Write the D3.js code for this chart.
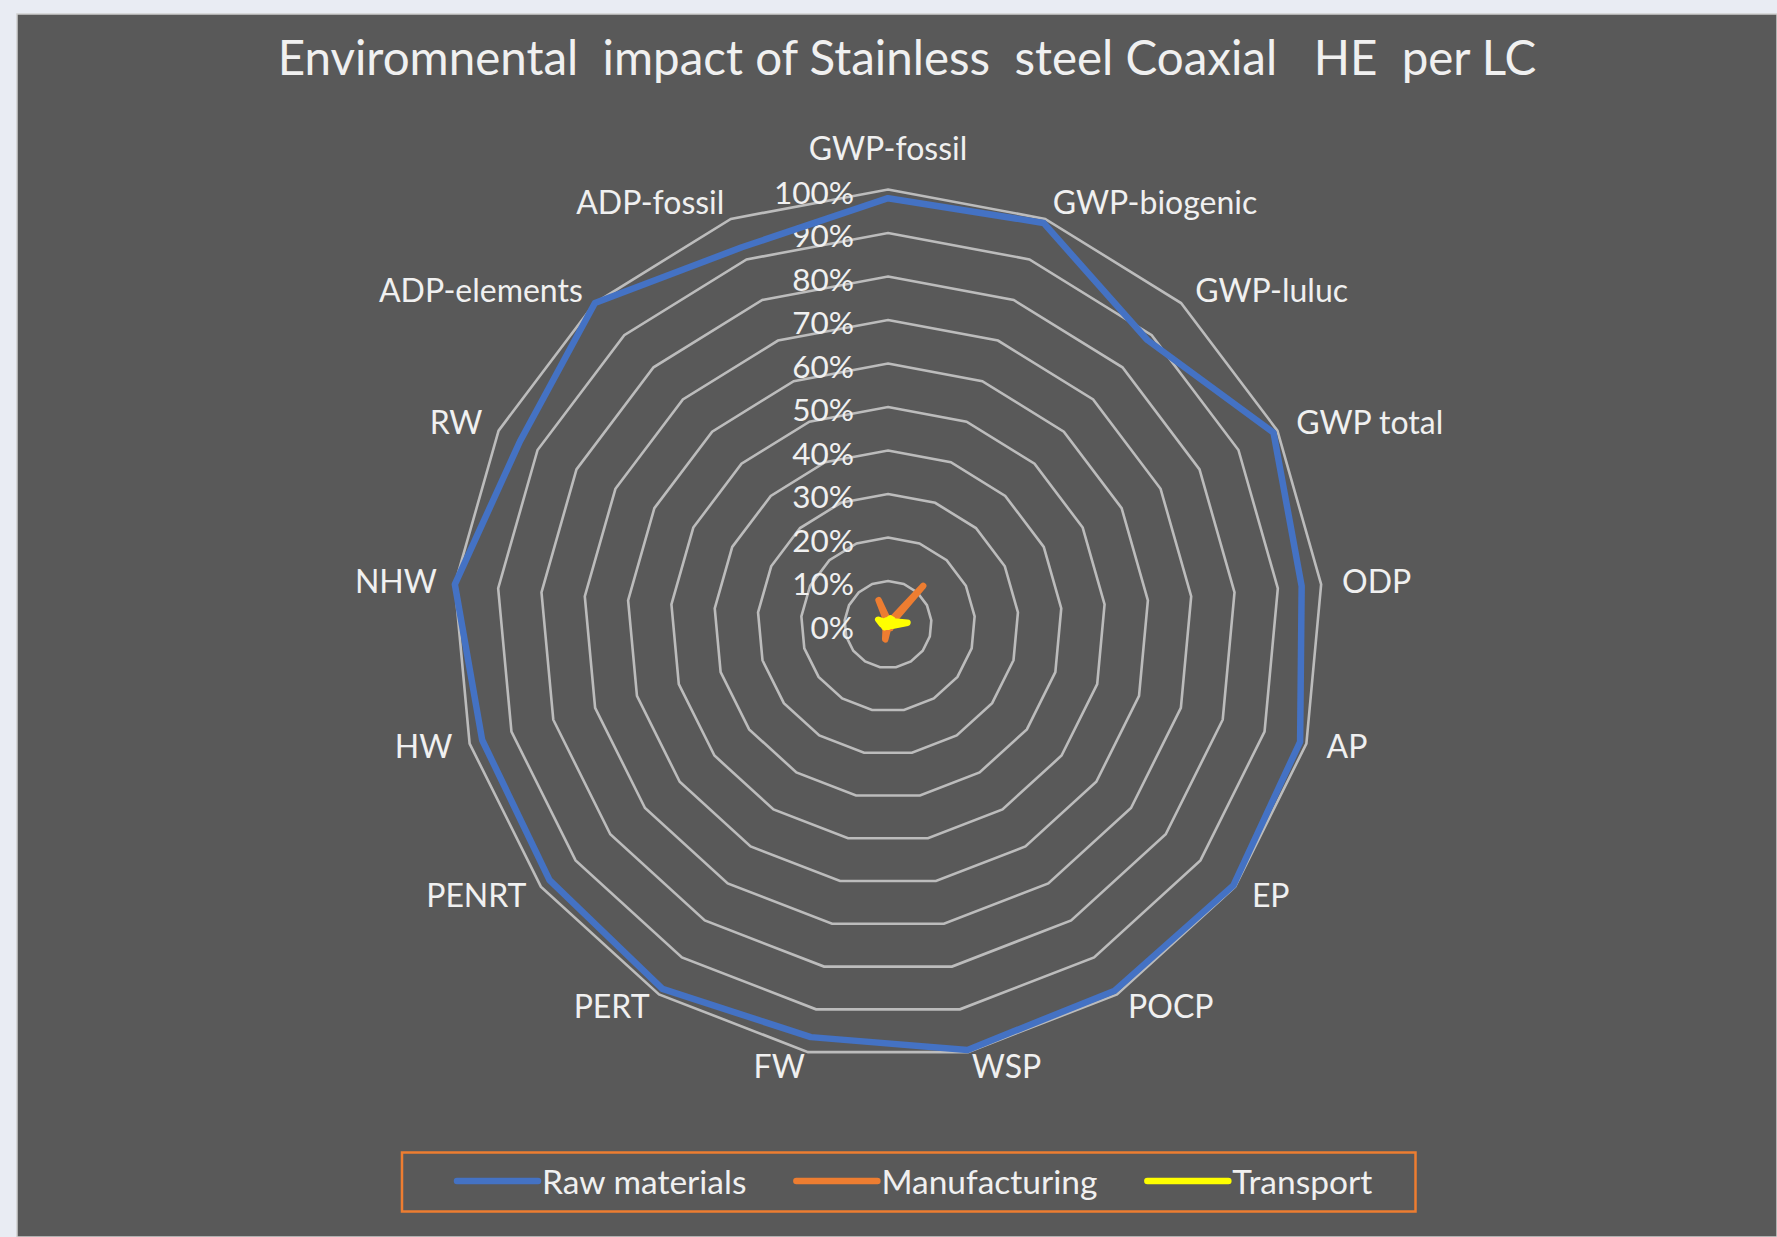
<!DOCTYPE html>
<html>
<head>
<meta charset="utf-8">
<script src="https://cdn.jsdelivr.net/npm/d3@7"></script>
<style>
  html, body { margin: 0; padding: 0; background: #e9ecf3; }
  svg { display: block; }
  text { font-family: Lato, "Open Sans", sans-serif; fill: #f0f0f0; }
</style>
</head>
<body>
<svg id="chart" width="1777" height="1237"></svg>
<script>
// Impact categories, clockwise from the top
const categories = ["GWP-fossil", "GWP-biogenic", "GWP-luluc", "GWP total", "ODP", "AP", "EP",
  "POCP", "WSP", "FW", "PERT", "PENRT", "HW", "NHW", "RW", "ADP-elements", "ADP-fossil"];

// Share of each life-cycle stage per impact category
const rawMaterials  = [0.98, 0.99, 0.885, 0.99, 0.955, 0.985, 0.995, 0.99, 0.995, 0.965, 0.985, 0.975, 0.97, 1.00, 0.945, 1.00, 0.93];
const manufacturing = [0.01, 0.005, 0.12, 0.01, 0.005, 0.01, 0.005, 0.01, 0.005, 0.035, 0.01, 0.01, 0.01, 0.00, 0.01, 0.00, 0.06];
const transport     = [0.01, 0.015, 0.015, 0.015, 0.045, 0.01, 0.005, 0.005, 0.005, 0.005, 0.005, 0.01, 0.01, 0.015, 0.025, 0.005, 0.01];

const seriesNames = ["Raw materials", "Manufacturing", "Transport"];
const tickValues = [0, 0.1, 0.2, 0.3, 0.4, 0.5, 0.6, 0.7, 0.8, 0.9, 1.0];
const tickLabels = ["0%", "10%", "20%", "30%", "40%", "50%", "60%", "70%", "80%", "90%", "100%"];
const titleText = "Enviromnental  impact of Stainless  steel Coaxial   HE  per LC";

const colors = ["#4472C4", "#ED7D31", "#FFFF00"];
const series = [rawMaterials, manufacturing, transport];

const svg = d3.select("#chart");
const W = 1777, H = 1237;
const cx = 888, cy = 624.5, R = 435;

// chart area
svg.append("rect").attr("x", 17).attr("y", 14).attr("width", W - 17).attr("height", H - 14)
  .attr("fill", "#595959").attr("stroke", "#cfcfcf").attr("stroke-width", 1.5);

svg.append("text")
  .attr("x", 907).attr("y", 75)
  .attr("text-anchor", "middle")
  .attr("font-size", 47.5)
  .style("white-space", "pre")
  .text(titleText);

const angle = d3.scaleBand().domain(categories).range([0, 2 * Math.PI]).paddingInner(0).paddingOuter(0);
const r = d3.scaleLinear().domain([0, 1]).range([0, R]);

const g = svg.append("g").attr("transform", `translate(${cx},${cy})`);

// concentric grid polygons
tickValues.filter(v => v > 0).forEach(v => {
  const line = d3.lineRadial()
    .angle(c => angle(c))
    .radius(() => r(v))
    .curve(d3.curveLinearClosed);
  g.append("path")
    .attr("d", line(categories))
    .attr("fill", "none")
    .attr("stroke", "#bcbcbc")
    .attr("stroke-width", 2.6);
});

// value axis labels
g.selectAll("text.tick")
  .data(tickValues)
  .join("text")
  .attr("class", "tick")
  .attr("x", -34)
  .attr("y", v => -r(v) + 2)
  .attr("text-anchor", "end")
  .attr("dominant-baseline", "central")
  .attr("font-size", 31.5)
  .text((v, i) => tickLabels[i]);

// category labels
g.selectAll("text.cat")
  .data(categories)
  .join("text")
  .attr("class", "cat")
  .each(function (c) {
    const a = angle(c);
    const s = Math.sin(a), co = Math.cos(a);
    const el = d3.select(this);
    let anchor, x, y;
    if (Math.abs(s) < 0.05) {
      anchor = "middle";
      x = s * (R + 24);
      y = -co * (R + 24) - 18;
    } else if (s > 0) {
      anchor = "start";
      x = s * (R + 21);
      y = -co * (R + 24) + 8 * co - 2;
    } else {
      anchor = "end";
      x = s * (R + 18);
      y = -co * (R + 24) + 8 * co - 2;
    }
    el.attr("x", x).attr("y", y)
      .attr("text-anchor", anchor)
      .attr("dominant-baseline", "central")
      .attr("font-size", 32)
      .text(c);
  });

// data series
series.forEach((vals, i) => {
  const line = d3.lineRadial()
    .angle((d, j) => angle(categories[j]))
    .radius(d => r(d))
    .curve(d3.curveLinearClosed);
  g.append("path")
    .attr("d", line(vals))
    .attr("fill", "none")
    .attr("stroke", colors[i])
    .attr("stroke-width", i === 0 ? 6.5 : 6.5)
    .attr("stroke-linejoin", "round")
    .attr("stroke-linecap", "round");
});

// legend
const legend = svg.append("g");
legend.append("rect")
  .attr("x", 402).attr("y", 1152.5).attr("width", 1013.5).attr("height", 59)
  .attr("fill", "none").attr("stroke", "#ED7D31").attr("stroke-width", 2.5);

let lx = 457;
seriesNames.forEach((name, i) => {
  legend.append("line")
    .attr("x1", lx).attr("x2", lx + 81)
    .attr("y1", 1181).attr("y2", 1181)
    .attr("stroke", colors[i]).attr("stroke-width", 6.5)
    .attr("stroke-linecap", "round");
  const t = legend.append("text")
    .attr("x", lx + 85).attr("y", 1181)
    .attr("dominant-baseline", "central")
    .attr("font-size", 33.5)
    .text(name);
  lx = lx + 85 + t.node().getComputedTextLength() + 50;
});
</script>
</body>
</html>
